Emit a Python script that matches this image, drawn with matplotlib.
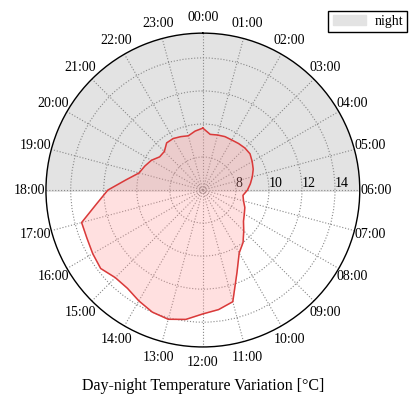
import numpy as np
import matplotlib.pyplot as plt

plt.rcParams['font.family'] = ['Liberation Serif', 'DejaVu Serif']

# half-hourly temperature readings over one day
hours = [0.0, 0.5, 1.0, 1.5, 2.0, 2.5, 3.0, 3.5, 4.0, 4.5, 5.0, 5.5,
         6.0, 6.5, 7.0, 7.5, 8.0, 8.5, 9.0, 9.5, 10.0, 10.5, 11.0, 11.5,
         12.0, 12.5, 13.0, 13.5, 14.0, 14.5, 15.0, 15.5, 16.0, 16.5, 17.0, 17.5,
         18.0, 18.5, 19.0, 19.5, 20.0, 20.5, 21.0, 21.5, 22.0, 22.5, 23.0, 23.5]
temps = [9.75, 9.4, 9.45, 9.5, 9.5, 9.55, 9.6, 9.6, 9.45, 9.3, 9.1, 8.9,
         8.7, 8.45, 8.55, 8.75, 8.9, 9.1, 9.5, 10.0, 10.4, 11.4, 13.0, 13.3,
         13.5, 13.9, 14.1, 14.0, 13.75, 13.5, 13.5, 13.8, 13.7, 13.6, 13.6, 12.5,
         11.75, 10.7, 10.0, 9.8, 9.6, 9.3, 9.3, 9.6, 9.6, 9.5, 9.4, 9.6]

hour_labels = ["%02d:00" % h for h in range(24)]
r_ticks = [8, 10, 12, 14]
r_min, r_max = 6, 15.5

theta = np.array(hours) / 24.0 * 2 * np.pi
theta = np.append(theta, theta[0])
r = np.append(temps, temps[0])

fig = plt.figure(figsize=(4.14, 3.98), dpi=100)
ax = fig.add_axes([0.111, 0.128, 0.758, 0.789], projection='polar')
ax.set_theta_zero_location('N')
ax.set_theta_direction(-1)
ax.set_ylim(r_min, r_max)

# night half: 18:00 -> 00:00 -> 06:00
night = np.linspace(-np.pi / 2, np.pi / 2, 200)
ax.fill_between(night, r_min, r_max, color='#e3e3e3', zorder=0, label='night')

ax.fill(theta, r, color='#ff9999', alpha=0.3, zorder=2)
ax.plot(theta, r, color='#d93a3a', lw=1.1, zorder=3)

ax.set_xticks(np.arange(24) / 24.0 * 2 * np.pi)
ax.set_xticklabels(hour_labels, fontsize=10)
ax.tick_params(axis='x', pad=1)
ax.set_yticks(r_ticks)
ax.set_yticklabels([str(t) for t in r_ticks], fontsize=10)
ax.set_rlabel_position(90)
ax.grid(True, color='#888888', linestyle=':', linewidth=0.8)
ax.spines['polar'].set_linewidth(1.0)

ax.set_xlabel('Day-night Temperature Variation [°C]', fontsize=11.5, labelpad=6)

fig.legend(loc='upper right', bbox_to_anchor=(1.0, 0.99),
           fancybox=False, edgecolor='black', fontsize=10, framealpha=1,
           borderpad=0.3, handlelength=2.4, handletextpad=0.6)

plt.savefig('out.png', dpi=100)
